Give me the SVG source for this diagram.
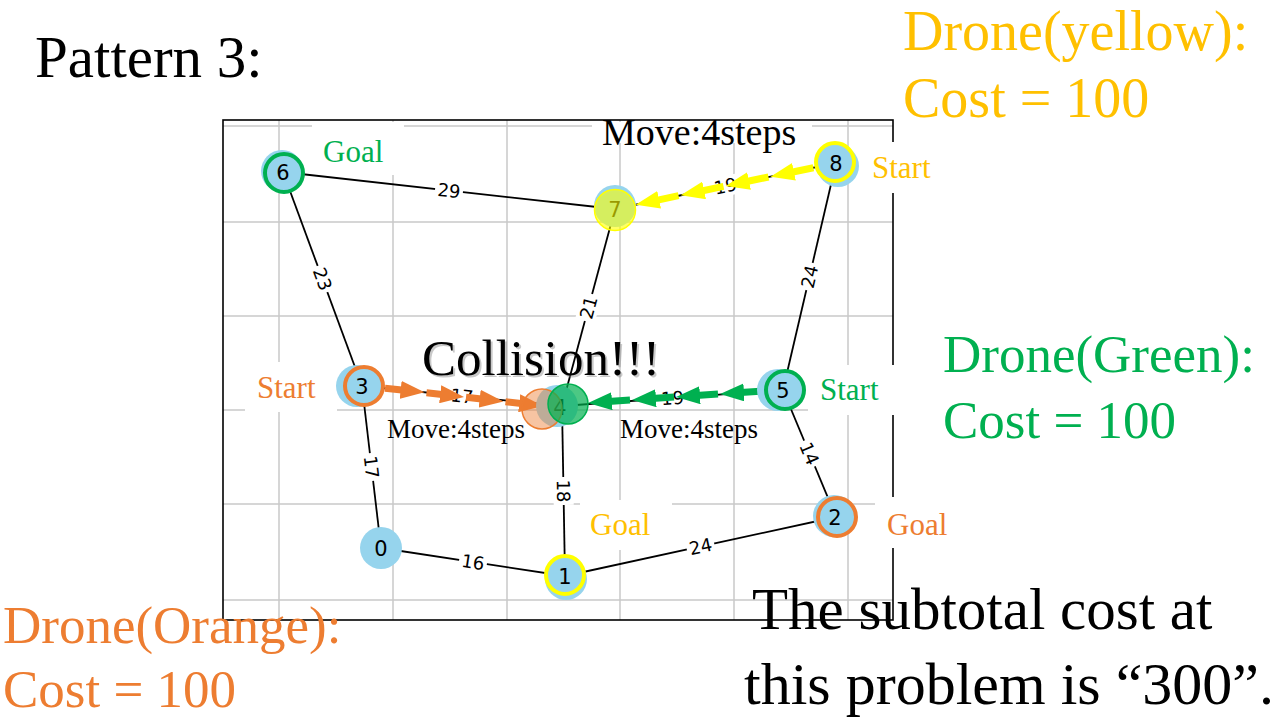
<svg xmlns="http://www.w3.org/2000/svg" width="1280" height="720" viewBox="0 0 1280 720">
<defs>
<style>
.grid line{stroke:#c8c8c8;stroke-width:1.5}
.edge{stroke:#000;stroke-width:1.8;fill:none}
.elabel rect{fill:#fff}
.elabel text{font-family:"DejaVu Sans",sans-serif;font-size:18px;text-anchor:middle;fill:#000}
.nlabel{font-family:"DejaVu Sans",sans-serif;font-size:21px;text-anchor:middle;fill:#000}
.base{fill:#96d4ed}
.ring{fill:#96d4ed;stroke-width:4}
.serif{font-family:"Liberation Serif","Times New Roman",serif}
.box{fill:#fff}
.ya{stroke:#ffff00;stroke-width:7;marker-end:url(#ah-y)}
.oa{stroke:#ed7d31;stroke-width:7;marker-end:url(#ah-o)}
.ga{stroke:#00b050;stroke-width:7;marker-end:url(#ah-g)}
</style>
<marker id="ah-y" viewBox="0 0 24 18" refX="11" refY="9" markerWidth="24" markerHeight="18" markerUnits="userSpaceOnUse" orient="auto"><path d="M0,0 L24,9 L0,18 z" fill="#ffff00"/></marker>
<marker id="ah-o" viewBox="0 0 24 18" refX="11" refY="9" markerWidth="24" markerHeight="18" markerUnits="userSpaceOnUse" orient="auto"><path d="M0,0 L24,9 L0,18 z" fill="#ed7d31"/></marker>
<marker id="ah-g" viewBox="0 0 24 18" refX="11" refY="9" markerWidth="24" markerHeight="18" markerUnits="userSpaceOnUse" orient="auto"><path d="M0,0 L24,9 L0,18 z" fill="#00b050"/></marker>
</defs>
<rect width="1280" height="720" fill="#fff"/>
<g id="grid" class="grid">
<line x1="279" y1="120" x2="279" y2="620"/>
<line x1="393" y1="120" x2="393" y2="620"/>
<line x1="507" y1="120" x2="507" y2="620"/>
<line x1="620" y1="120" x2="620" y2="620"/>
<line x1="734" y1="120" x2="734" y2="620"/>
<line x1="848" y1="120" x2="848" y2="620"/>
<line x1="223" y1="126" x2="893" y2="126"/>
<line x1="223" y1="222" x2="893" y2="222"/>
<line x1="223" y1="316" x2="893" y2="316"/>
<line x1="223" y1="410" x2="893" y2="410"/>
<line x1="223" y1="504" x2="893" y2="504"/>
<line x1="223" y1="600" x2="893" y2="600"/>
</g>
<rect id="frame" x="223" y="120" width="670" height="500" fill="none" stroke="#000" stroke-width="1.6"/>
<g id="label-boxes">
<rect class="box" x="312" y="122" width="92" height="53"/>
<rect class="box" x="592" y="122" width="220" height="21"/>
<rect class="box" x="862" y="142" width="90" height="51"/>
<rect class="box" x="245" y="362" width="92" height="50"/>
<rect class="box" x="808" y="365" width="94" height="50"/>
<rect class="box" x="580" y="500" width="92" height="50"/>
<rect class="box" x="875" y="497" width="90" height="51"/>
</g>
<g id="connectors">
<line class="edge" x1="283" y1="172" x2="615" y2="209"/>
<line class="edge" x1="283" y1="172" x2="362" y2="386"/>
<line class="edge" x1="615" y1="209" x2="562" y2="406"/>
<line class="edge" x1="836" y1="163" x2="615" y2="209"/>
<line class="edge" x1="836" y1="163" x2="783" y2="390"/>
<line class="edge" x1="362" y1="386" x2="562" y2="406"/>
<line class="edge" x1="783" y1="390" x2="562" y2="406"/>
<line class="edge" x1="362" y1="386" x2="381" y2="548"/>
<line class="edge" x1="562" y1="406" x2="565" y2="576"/>
<line class="edge" x1="381" y1="548" x2="565" y2="576"/>
<line class="edge" x1="565" y1="576" x2="836" y2="517"/>
<line class="edge" x1="783" y1="390" x2="836" y2="517"/>
<g class="elabel" transform="translate(449,190.5) rotate(6.36)"><rect x="-14" y="-10" width="28" height="20"/><text y="6.5">29</text></g>
<g class="elabel" transform="translate(322.5,279) rotate(69.7)"><rect x="-14" y="-10" width="28" height="20"/><text y="6.5">23</text></g>
<g class="elabel" transform="translate(588.5,307.5) rotate(-74.94)"><rect x="-14" y="-10" width="28" height="20"/><text y="6.5">21</text></g>
<g class="elabel" transform="translate(725.5,186) rotate(-11.76)"><rect x="-14" y="-10" width="28" height="20"/><text y="6.5">19</text></g>
<g class="elabel" transform="translate(809.5,276.5) rotate(-76.9)"><rect x="-14" y="-10" width="28" height="20"/><text y="6.5">24</text></g>
<g class="elabel" transform="translate(462,396) rotate(5.7)"><rect x="-14" y="-10" width="28" height="20"/><text y="6.5">17</text></g>
<g class="elabel" transform="translate(672.5,398) rotate(-4.14)"><rect x="-14" y="-10" width="28" height="20"/><text y="6.5">19</text></g>
<g class="elabel" transform="translate(371.5,467) rotate(83.3)"><rect x="-14" y="-10" width="28" height="20"/><text y="6.5">17</text></g>
<g class="elabel" transform="translate(563.5,491) rotate(89)"><rect x="-14" y="-10" width="28" height="20"/><text y="6.5">18</text></g>
<g class="elabel" transform="translate(473,562) rotate(8.65)"><rect x="-14" y="-10" width="28" height="20"/><text y="6.5">16</text></g>
<g class="elabel" transform="translate(700.5,546.5) rotate(-12.28)"><rect x="-14" y="-10" width="28" height="20"/><text y="6.5">24</text></g>
<g class="elabel" transform="translate(809.5,453.5) rotate(67.35)"><rect x="-14" y="-10" width="28" height="20"/><text y="6.5">14</text></g>
</g>
<g id="drone-paths">
<g id="path-yellow">
<line class="ya" x1="813.4" y1="167.7" x2="783.2" y2="174.0"/>
<line class="ya" x1="768.5" y1="177.0" x2="738.3" y2="183.3"/>
<line class="ya" x1="723.5" y1="186.4" x2="693.4" y2="192.7"/>
<line class="ya" x1="678.6" y1="195.7" x2="648.4" y2="202.1"/>
</g>
<g id="path-orange">
<line class="oa" x1="385" y1="388.2" x2="411.6" y2="391.0"/>
<line class="oa" x1="426.5" y1="392.7" x2="451.1" y2="395.5"/>
<line class="oa" x1="466" y1="397.2" x2="490.6" y2="400.0"/>
<line class="oa" x1="505.5" y1="401.7" x2="530.1" y2="404.5"/>
</g>
<g id="path-green">
<line class="ga" x1="764" y1="391.1" x2="733" y2="393.1"/>
<line class="ga" x1="718" y1="394.1" x2="689" y2="396.1"/>
<line class="ga" x1="674" y1="397.1" x2="645" y2="399.1"/>
<line class="ga" x1="630" y1="400.1" x2="601" y2="402.1"/>
</g>
</g>
<g id="node-0"><circle class="base" cx="381" cy="548" r="21"/><text class="nlabel" x="381" y="556">0</text></g>
<g id="node-1"><circle class="base" cx="566" cy="579" r="21"/><circle class="ring" cx="565" cy="575" r="19" stroke="#ffff00"/><text class="nlabel" x="565" y="584">1</text></g>
<g id="node-2"><circle class="base" cx="834" cy="516" r="21"/><circle class="ring" cx="837" cy="517" r="19" stroke="#ed7d31"/><text class="nlabel" x="835" y="525">2</text></g>
<g id="node-3"><circle class="base" cx="357" cy="386" r="21"/><circle class="ring" cx="364" cy="386" r="19" stroke="#ed7d31"/><text class="nlabel" x="362" y="394">3</text></g>
<g id="node-5"><circle class="base" cx="778" cy="390" r="21"/><circle class="ring" cx="785" cy="390" r="19" stroke="#00b050"/><text class="nlabel" x="783" y="398">5</text></g>
<g id="node-6"><circle class="base" cx="282" cy="171" r="21"/><circle class="ring" cx="284" cy="173" r="19" stroke="#00b050"/><text class="nlabel" x="283" y="180">6</text></g>
<g id="node-8"><circle class="base" cx="838" cy="166" r="21"/><circle class="ring" cx="835" cy="162" r="19" stroke="#ffff00"/><text class="nlabel" x="836" y="171">8</text></g>
<g id="node-7"><circle class="base" cx="615" cy="206" r="21"/><text class="nlabel" x="615" y="217">7</text><circle cx="615" cy="210" r="20.5" fill="#ffff00" fill-opacity="0.6" stroke="#ffff00" stroke-width="1.5"/></g>
<g id="node-4"><circle class="base" cx="557" cy="406" r="21"/><text class="nlabel" x="560" y="415">4</text><circle cx="542" cy="409" r="20" fill="#ed7d31" fill-opacity="0.45" stroke="#ed7d31" stroke-width="1.5"/><circle cx="568" cy="404" r="20" fill="#00b050" fill-opacity="0.7" stroke="#00b050" stroke-width="1.5"/></g>
<g id="labels" class="serif">
<text x="323" y="162" font-size="31" fill="#00b050">Goal</text>
<text x="602" y="145" font-size="38" fill="#000">Move:4steps</text>
<text x="872" y="178" font-size="31" fill="#ffc000">Start</text>
<text x="257" y="398" font-size="31" fill="#ed7d31">Start</text>
<text x="820" y="400" font-size="31" fill="#00b050">Start</text>
<text x="590" y="535" font-size="31" fill="#ffc000">Goal</text>
<text x="887" y="535" font-size="31" fill="#ed7d31">Goal</text>
<text x="387" y="438" font-size="27" fill="#000">Move:4steps</text>
<text x="620" y="438" font-size="27" fill="#000">Move:4steps</text>
<text x="424" y="377" font-size="51" fill="#888" fill-opacity="0.45">Collision!!!</text>
<text x="422" y="375" font-size="51" fill="#000">Collision!!!</text>
</g>
<g id="captions" class="serif">
<text x="35" y="77" font-size="59" fill="#000">Pattern 3:</text>
<text x="903" y="50" font-size="56" fill="#ffc000">Drone(yellow):</text>
<text x="903" y="117" font-size="56" fill="#ffc000">Cost = 100</text>
<text x="943" y="372" font-size="53" fill="#00b050">Drone(Green):</text>
<text x="943" y="438" font-size="53" fill="#00b050">Cost = 100</text>
<text x="3" y="643" font-size="53" fill="#ed7d31">Drone(Orange):</text>
<text x="3" y="707" font-size="53" fill="#ed7d31">Cost = 100</text>
<text x="752" y="629" font-size="59" fill="#000">The subtotal cost at</text>
<text x="744" y="704" font-size="60" fill="#000">this problem is “300”.</text>
</g>
</svg>
